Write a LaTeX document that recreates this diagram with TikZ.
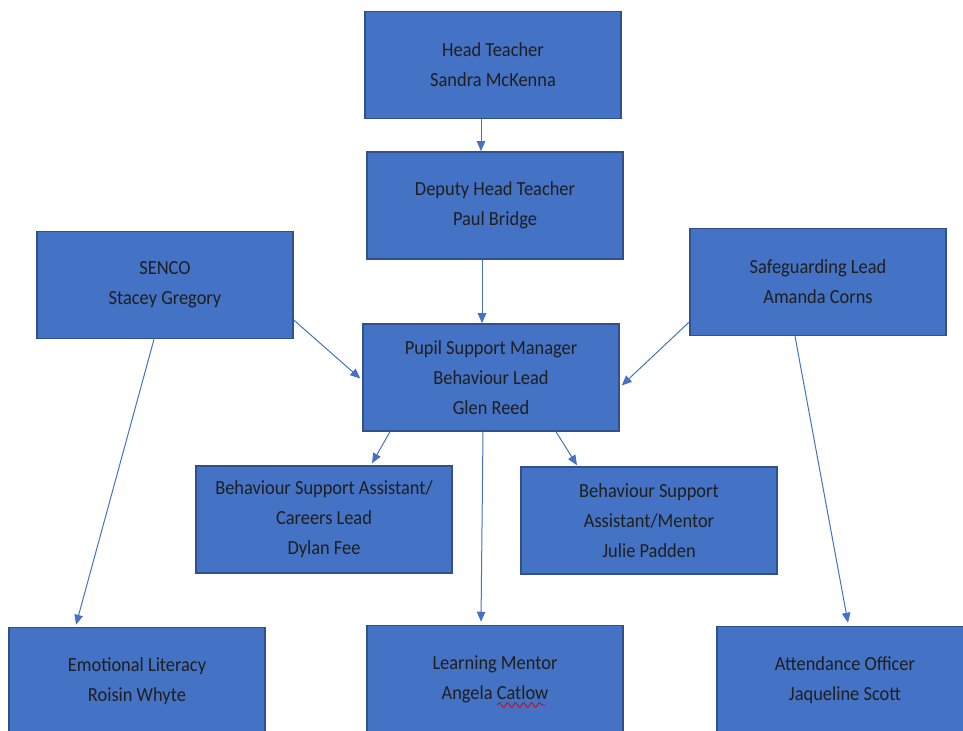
\documentclass[tikz,border=0pt]{standalone}
\usepackage{fontspec}
\setmainfont{Carlito}[FakeStretch=0.92]
\usepackage{tikz}
\usetikzlibrary{arrows.meta,calc,decorations.pathmorphing}
\definecolor{boxfill}{HTML}{4472C4}
\definecolor{boxline}{HTML}{2F528F}
\definecolor{linkcol}{HTML}{4472C4}

\begin{document}
\begin{tikzpicture}[x=0.5pt, y=-0.5pt,
  font=\fontsize{10pt}{15pt}\selectfont,
  role/.style={draw=boxline, fill=boxfill, line width=0.75pt, align=center,
               text=black!88, minimum width=128pt, minimum height=53.5pt,
               inner sep=0pt},
  fl/.style={-{Triangle[length=5pt, width=4.2pt]}, draw=linkcol, line width=0.5pt}]

\useasboundingbox (0,0) rectangle (963,731);
\clip (0,0) rectangle (963,731);

% top of the chart
\node[role] (head) at (493,65) {Head Teacher\\Sandra McKenna};
\node[role] (dep) at (495,205.5) {Deputy Head Teacher\\Paul Bridge};
\node[role] (senco) at (165,285) {SENCO\\Stacey Gregory};
\node[role] (safe) at (818,282) {Safeguarding Lead\\Amanda Corns};
\node[role] (psm) at (491,377.5) {Pupil Support Manager\\Behaviour Lead\\Glen Reed};

% assistants
\node[role] (bsal) at (324,519.5) {Behaviour Support Assistant/\\Careers Lead\\Dylan Fee};
\node[role] (bsar) at (649,520.5) {Behaviour Support\\Assistant/Mentor\\Julie Padden};

% bottom row (runs off the page)
\node[role] (emo) at (137,681) {Emotional Literacy\\Roisin Whyte};
\node[role] (lmen) at (495,679) {Learning Mentor\\Angela Catlow};
\node[role] (att) at (845,680) {Attendance Officer\\Jaqueline Scott};
\draw[red!85!black, line width=0.4pt, decorate,
      decoration={snake, segment length=4, amplitude=1.2}]
  ($(lmen.center)+(2,26)$) -- ($(lmen.center)+(50,26)$);

% links
\draw[fl] ($(head.south)+(-12,0)$) -- ($(dep.north)+(-14,0)$);
\draw[fl] ($(dep.south)+(-13,0)$) -- ($(psm.north)+(-9,0)$);
\draw[fl] ($(senco.east)+(0,35)$) -- ($(psm.west)+(-2,1)$);
\draw[fl] ($(safe.west)+(0,40)$) -- ($(psm.east)+(2,8)$);
\draw[fl] ($(psm.south)+(-101,0)$) -- ($(bsal.north)+(48,-2)$);
\draw[fl] ($(psm.south)+(65,0)$) -- ($(bsar.north)+(-72,-1)$);
\draw[fl] ($(psm.south)+(-8,0)$) -- ($(lmen.north)+(-14,-3)$);
\draw[fl] ($(senco.south)+(-11,0)$) -- ($(emo.north)+(-61,-2)$);
\draw[fl] ($(safe.south)+(-23,0)$) -- ($(att.north)+(3,-3)$);
\end{tikzpicture}
\end{document}
